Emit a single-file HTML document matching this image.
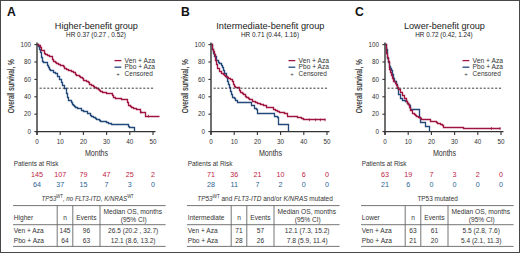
<!DOCTYPE html>
<html><head><meta charset="utf-8"><style>
html,body{margin:0;padding:0;background:#fff;}
body{width:520px;height:253px;overflow:hidden;}
svg{display:block;font-family:"Liberation Sans",sans-serif;}
</style></head><body>
<svg width="520" height="253" viewBox="0 0 520 253">
<rect x="0" y="0" width="520" height="253" fill="#fff"/>
<text x="7.0" y="15.6" font-size="12.2" font-weight="bold" fill="#111">A</text>
<text x="96.4" y="29.2" font-size="9.1" text-anchor="middle" textLength="83.1" lengthAdjust="spacingAndGlyphs" fill="#222">Higher-benefit group</text>
<text x="96.0" y="36.6" font-size="6.3" text-anchor="middle" textLength="59.8" lengthAdjust="spacingAndGlyphs" fill="#222">HR 0.37 (0.27 , 0.52)</text>
<path d="M37.50,44.50 L38.50,44.50 L38.50,46.50 L39.50,46.50 L39.50,49.50 L40.50,49.50 L40.50,52.50 L41.50,52.50 L41.50,57.50 L42.50,57.50 L42.50,61.50 L43.50,61.50 L43.50,62.50 L46.50,62.50 L46.50,62.50 L47.50,62.50 L47.50,65.50 L48.50,65.50 L48.50,67.50 L49.50,67.50 L49.50,69.50 L50.50,69.50 L50.50,70.50 L53.50,70.50 L53.50,72.50 L55.50,72.50 L55.50,73.50 L57.50,73.50 L57.50,76.50 L59.50,76.50 L59.50,79.50 L61.50,79.50 L61.50,82.50 L62.50,82.50 L62.50,85.50 L64.50,85.50 L64.50,88.50 L66.50,88.50 L66.50,90.50 L66.50,90.50 L66.50,93.50 L67.50,93.50 L67.50,97.50 L68.50,97.50 L68.50,100.50 L71.50,100.50 L71.50,102.50 L72.50,102.50 L72.50,104.50 L73.50,104.50 L73.50,105.50 L74.50,105.50 L74.50,106.50 L75.50,106.50 L75.50,107.50 L77.50,107.50 L77.50,108.50 L79.50,108.50 L79.50,108.50 L81.50,108.50 L81.50,110.50 L83.50,110.50 L83.50,111.50 L85.50,111.50 L85.50,111.50 L87.50,111.50 L87.50,113.50 L90.50,113.50 L90.50,115.50 L91.50,115.50 L91.50,116.50 L93.50,116.50 L93.50,117.50 L95.50,117.50 L95.50,118.50 L96.50,118.50 L96.50,119.50 L98.50,119.50 L98.50,119.50 L99.50,119.50 L99.50,120.50 L100.50,120.50 L100.50,121.50 L102.50,121.50 L102.50,121.50 L105.50,121.50 L106.50,121.50 L106.50,122.50 L108.50,122.50 L108.50,123.50 L110.50,123.50 L110.50,123.50 L111.50,123.50 L111.50,124.50 L127.50,124.50 L128.50,124.50 L128.50,126.50 L129.50,126.50 L129.50,127.50 L134.50,127.50 L134.50,131.50" fill="none" stroke="#22497a" stroke-width="1.35" stroke-linejoin="miter"/>
<path d="M37.50,44.50 L38.50,44.50 L38.50,45.50 L40.50,45.50 L40.50,47.50 L41.50,47.50 L41.50,50.50 L44.50,50.50 L44.50,53.50 L45.50,53.50 L45.50,54.50 L47.50,54.50 L47.50,55.50 L49.50,55.50 L49.50,56.50 L52.50,56.50 L52.50,59.50 L53.50,59.50 L53.50,61.50 L55.50,61.50 L55.50,62.50 L56.50,62.50 L56.50,63.50 L58.50,63.50 L58.50,64.50 L60.50,64.50 L60.50,65.50 L61.50,65.50 L61.50,65.50 L63.50,65.50 L63.50,66.50 L64.50,66.50 L64.50,68.50 L66.50,68.50 L66.50,69.50 L68.50,69.50 L68.50,70.50 L69.50,70.50 L69.50,70.50 L71.50,70.50 L71.50,71.50 L73.50,71.50 L73.50,72.50 L75.50,72.50 L75.50,74.50 L76.50,74.50 L76.50,75.50 L78.50,75.50 L78.50,75.50 L79.50,75.50 L79.50,76.50 L80.50,76.50 L80.50,77.50 L82.50,77.50 L82.50,78.50 L83.50,78.50 L83.50,80.50 L85.50,80.50 L85.50,80.50 L86.50,80.50 L86.50,81.50 L88.50,81.50 L88.50,82.50 L89.50,82.50 L89.50,84.50 L91.50,84.50 L91.50,85.50 L93.50,85.50 L93.50,86.50 L94.50,86.50 L94.50,87.50 L96.50,87.50 L96.50,88.50 L98.50,88.50 L98.50,89.50 L99.50,89.50 L99.50,90.50 L100.50,90.50 L100.50,91.50 L102.50,91.50 L102.50,92.50 L104.50,92.50 L104.50,92.50 L106.50,92.50 L106.50,93.50 L107.50,93.50 L107.50,93.50 L109.50,93.50 L109.50,93.50 L112.50,93.50 L112.50,95.50 L113.50,95.50 L113.50,97.50 L115.50,97.50 L115.50,98.50 L116.50,98.50 L116.50,98.50 L118.50,98.50 L118.50,98.50 L119.50,98.50 L119.50,98.50 L121.50,98.50 L121.50,99.50 L122.50,99.50 L122.50,99.50 L124.50,99.50 L124.50,99.50 L125.50,99.50 L125.50,99.50 L127.50,99.50 L127.50,102.50 L128.50,102.50 L128.50,105.50 L130.50,105.50 L130.50,106.50 L131.50,106.50 L131.50,107.50 L133.50,107.50 L133.50,108.50 L135.50,108.50 L135.50,108.50 L136.50,108.50 L136.50,109.50 L138.50,109.50 L138.50,109.50 L140.50,109.50 L140.50,112.50 L141.50,112.50 L141.50,112.50 L142.50,112.50 L142.50,112.50 L144.50,112.50 L144.50,112.50 L145.50,112.50 L145.50,116.50 L159.50,116.50" fill="none" stroke="#a01440" stroke-width="1.35" stroke-linejoin="miter"/>
<path d="M141,110.8 V113.60000000000001" stroke="#a01440" stroke-width="0.8"/>
<path d="M148.4,114.69999999999999 V117.5" stroke="#a01440" stroke-width="0.8"/>
<line x1="39.6" y1="88.20" x2="153.5" y2="88.20" stroke="#3a3a3a" stroke-width="1.0" stroke-dasharray="2.1,1.74"/>
<path d="M37.0,42.40 V134.79999999999998" stroke="#333" stroke-width="1.4" fill="none"/>
<path d="M36.3,131.6 H155.5" stroke="#333" stroke-width="1.3" fill="none"/>
<path d="M34.4,131.60 H37.0" stroke="#333" stroke-width="1.1"/>
<text x="30.9" y="133.79999999999998" font-size="6.3" text-anchor="end" fill="#333">0</text>
<path d="M37.00,131.6 V135.0" stroke="#333" stroke-width="1.1"/>
<text x="37.00" y="143.8" font-size="6.3" text-anchor="middle" fill="#333">0</text>
<path d="M34.4,114.20 H37.0" stroke="#333" stroke-width="1.1"/>
<text x="30.9" y="116.39999999999999" font-size="6.3" text-anchor="end" fill="#333">20</text>
<path d="M60.20,131.6 V135.0" stroke="#333" stroke-width="1.1"/>
<text x="60.20" y="143.8" font-size="6.3" text-anchor="middle" fill="#333">10</text>
<path d="M34.4,96.80 H37.0" stroke="#333" stroke-width="1.1"/>
<text x="30.9" y="99.0" font-size="6.3" text-anchor="end" fill="#333">40</text>
<path d="M83.40,131.6 V135.0" stroke="#333" stroke-width="1.1"/>
<text x="83.40" y="143.8" font-size="6.3" text-anchor="middle" fill="#333">20</text>
<path d="M34.4,79.40 H37.0" stroke="#333" stroke-width="1.1"/>
<text x="30.9" y="81.6" font-size="6.3" text-anchor="end" fill="#333">60</text>
<path d="M106.60,131.6 V135.0" stroke="#333" stroke-width="1.1"/>
<text x="106.60" y="143.8" font-size="6.3" text-anchor="middle" fill="#333">30</text>
<path d="M34.4,62.00 H37.0" stroke="#333" stroke-width="1.1"/>
<text x="30.9" y="64.2" font-size="6.3" text-anchor="end" fill="#333">80</text>
<path d="M129.80,131.6 V135.0" stroke="#333" stroke-width="1.1"/>
<text x="129.80" y="143.8" font-size="6.3" text-anchor="middle" fill="#333">40</text>
<path d="M34.4,44.60 H37.0" stroke="#333" stroke-width="1.1"/>
<text x="30.9" y="46.8" font-size="6.3" text-anchor="end" fill="#333">100</text>
<path d="M153.00,131.6 V135.0" stroke="#333" stroke-width="1.1"/>
<text x="153.00" y="143.8" font-size="6.3" text-anchor="middle" fill="#333">50</text>
<text x="96.5" y="155.7" font-size="9.0" text-anchor="middle" textLength="23.2" lengthAdjust="spacingAndGlyphs" fill="#333">Months</text>
<text x="0" y="0" font-size="8.4" text-anchor="middle" textLength="54" lengthAdjust="spacingAndGlyphs" fill="#333" stroke="#333" stroke-width="0.2" transform="translate(14.100000000000001,86.2) rotate(-90)">Overall survival, %</text>
<path d="M114.5,60.6 H121.3" stroke="#a01440" stroke-width="1.3"/>
<path d="M114.5,67.2 H121.3" stroke="#22497a" stroke-width="1.3"/>
<text x="118.1" y="75.8" font-size="6.0" text-anchor="middle" fill="#333">+</text>
<text x="124.6" y="62.9" font-size="6.6" textLength="30.4" lengthAdjust="spacingAndGlyphs" fill="#333">Ven + Aza</text>
<text x="124.6" y="69.4" font-size="6.6" textLength="30.4" lengthAdjust="spacingAndGlyphs" fill="#333">Pbo + Aza</text>
<text x="124.6" y="76.1" font-size="6.6" textLength="28.2" lengthAdjust="spacingAndGlyphs" fill="#333">Censored</text>
<text x="13.7" y="166.3" font-size="7.2" textLength="44.7" lengthAdjust="spacingAndGlyphs" fill="#333">Patients at Risk</text>
<text x="37.00" y="176.9" font-size="7.2" text-anchor="middle" fill="#c01a42">145</text>
<text x="37.00" y="187.1" font-size="7.2" text-anchor="middle" fill="#2c5f93">64</text>
<text x="60.20" y="176.9" font-size="7.2" text-anchor="middle" fill="#c01a42">107</text>
<text x="60.20" y="187.1" font-size="7.2" text-anchor="middle" fill="#2c5f93">37</text>
<text x="83.40" y="176.9" font-size="7.2" text-anchor="middle" fill="#c01a42">79</text>
<text x="83.40" y="187.1" font-size="7.2" text-anchor="middle" fill="#2c5f93">15</text>
<text x="106.60" y="176.9" font-size="7.2" text-anchor="middle" fill="#c01a42">47</text>
<text x="106.60" y="187.1" font-size="7.2" text-anchor="middle" fill="#2c5f93">7</text>
<text x="129.80" y="176.9" font-size="7.2" text-anchor="middle" fill="#c01a42">25</text>
<text x="129.80" y="187.1" font-size="7.2" text-anchor="middle" fill="#2c5f93">3</text>
<text x="153.00" y="176.9" font-size="7.2" text-anchor="middle" fill="#c01a42">2</text>
<text x="153.00" y="187.1" font-size="7.2" text-anchor="middle" fill="#2c5f93">0</text>
<text x="41.6" y="201" font-size="7" textLength="92.1" lengthAdjust="spacingAndGlyphs" fill="#333"><tspan font-style="italic">TP53</tspan><tspan font-size="4.8" dy="-2.7">WT</tspan><tspan dy="2.7" font-style="italic">, no FLT3-ITD, K/NRAS</tspan><tspan font-size="4.8" dy="-2.7">WT</tspan></text>
<path d="M13.0,205.6 H165.6" stroke="#666" stroke-width="0.9"/>
<path d="M13.0,224.7 H165.6" stroke="#666" stroke-width="0.9"/>
<path d="M13.0,246.4 H165.6" stroke="#666" stroke-width="0.9"/>
<path d="M57.2,205.6 V246.4" stroke="#666" stroke-width="0.9"/>
<path d="M72.8,205.6 V246.4" stroke="#666" stroke-width="0.9"/>
<path d="M100.0,205.6 V246.4" stroke="#666" stroke-width="0.9"/>
<text x="13.8" y="219.8" font-size="6.6" fill="#333">Higher</text>
<text x="65.0" y="219.8" font-size="6.6" text-anchor="middle" fill="#333">n</text>
<text x="86.4" y="219.8" font-size="6.6" text-anchor="middle" fill="#333">Events</text>
<text x="132.80" y="213.7" font-size="6.6" text-anchor="middle" textLength="58.6" lengthAdjust="spacingAndGlyphs" fill="#333">Median OS, months</text>
<text x="133.80" y="221.8" font-size="6.6" text-anchor="middle" fill="#333">(95% CI)</text>
<text x="13.8" y="233.1" font-size="6.6" fill="#333">Ven + Aza</text>
<text x="65.0" y="233.1" font-size="6.6" text-anchor="middle" fill="#333">145</text>
<text x="86.4" y="233.1" font-size="6.6" text-anchor="middle" fill="#333">96</text>
<text x="133.20" y="233.1" font-size="6.6" text-anchor="middle" textLength="50.2" lengthAdjust="spacingAndGlyphs" fill="#333">26.5 (20.2 , 32.7)</text>
<text x="13.8" y="242.6" font-size="6.6" fill="#333">Pbo + Aza</text>
<text x="65.0" y="242.6" font-size="6.6" text-anchor="middle" fill="#333">64</text>
<text x="86.4" y="242.6" font-size="6.6" text-anchor="middle" fill="#333">63</text>
<text x="133.20" y="242.6" font-size="6.6" text-anchor="middle" fill="#333">12.1 (8.6, 13.2)</text>
<text x="181.0" y="15.6" font-size="12.2" font-weight="bold" fill="#111">B</text>
<text x="270.4" y="29.2" font-size="9.1" text-anchor="middle" textLength="108.2" lengthAdjust="spacingAndGlyphs" fill="#222">Intermediate-benefit group</text>
<text x="270.0" y="36.6" font-size="6.3" text-anchor="middle" textLength="58.1" lengthAdjust="spacingAndGlyphs" fill="#222">HR 0.71 (0.44, 1.16)</text>
<path d="M211.50,44.50 L212.50,44.50 L212.50,49.50 L213.50,49.50 L213.50,53.50 L214.50,53.50 L214.50,56.50 L216.50,56.50 L216.50,57.50 L216.50,57.50 L216.50,60.50 L218.50,60.50 L218.50,62.50 L219.50,62.50 L219.50,63.50 L221.50,63.50 L221.50,65.50 L222.50,65.50 L222.50,67.50 L223.50,67.50 L223.50,70.50 L224.50,70.50 L224.50,73.50 L226.50,73.50 L226.50,77.50 L227.50,77.50 L227.50,81.50 L228.50,81.50 L228.50,84.50 L229.50,84.50 L229.50,87.50 L230.50,87.50 L230.50,91.50 L231.50,91.50 L231.50,94.50 L232.50,94.50 L232.50,97.50 L234.50,97.50 L234.50,98.50 L235.50,98.50 L235.50,100.50 L237.50,100.50 L237.50,102.50 L251.50,102.50 L251.50,102.50 L251.50,105.50 L254.50,105.50 L254.50,108.50 L256.50,108.50 L256.50,109.50 L257.50,109.50 L257.50,113.50 L274.50,113.50 L274.50,113.50 L274.50,116.50 L276.50,116.50 L276.50,116.50 L277.50,116.50 L277.50,117.50 L278.50,117.50 L278.50,124.50 L288.50,124.50 L288.50,131.50" fill="none" stroke="#22497a" stroke-width="1.35" stroke-linejoin="miter"/>
<path d="M211.50,44.50 L212.50,44.50 L212.50,49.50 L213.50,49.50 L213.50,51.50 L214.50,51.50 L214.50,54.50 L215.50,54.50 L215.50,57.50 L215.50,57.50 L215.50,60.50 L216.50,60.50 L216.50,64.50 L217.50,64.50 L217.50,68.50 L219.50,68.50 L219.50,71.50 L221.50,71.50 L221.50,73.50 L223.50,73.50 L223.50,74.50 L224.50,74.50 L224.50,75.50 L225.50,75.50 L225.50,76.50 L227.50,76.50 L227.50,77.50 L228.50,77.50 L228.50,78.50 L230.50,78.50 L230.50,79.50 L231.50,79.50 L231.50,79.50 L232.50,79.50 L232.50,81.50 L233.50,81.50 L233.50,84.50 L234.50,84.50 L234.50,86.50 L235.50,86.50 L235.50,87.50 L237.50,87.50 L237.50,87.50 L238.50,87.50 L238.50,87.50 L239.50,87.50 L239.50,90.50 L240.50,90.50 L240.50,92.50 L242.50,92.50 L242.50,93.50 L243.50,93.50 L243.50,94.50 L245.50,94.50 L245.50,96.50 L246.50,96.50 L246.50,97.50 L248.50,97.50 L248.50,98.50 L249.50,98.50 L249.50,99.50 L250.50,99.50 L250.50,99.50 L252.50,99.50 L252.50,101.50 L255.50,101.50 L255.50,102.50 L257.50,102.50 L257.50,103.50 L258.50,103.50 L258.50,103.50 L260.50,103.50 L260.50,104.50 L262.50,104.50 L262.50,104.50 L263.50,104.50 L263.50,105.50 L264.50,105.50 L264.50,105.50 L266.50,105.50 L266.50,107.50 L267.50,107.50 L267.50,107.50 L269.50,107.50 L269.50,107.50 L270.50,107.50 L270.50,107.50 L273.50,107.50 L273.50,109.50 L275.50,109.50 L275.50,110.50 L277.50,110.50 L277.50,111.50 L279.50,111.50 L279.50,112.50 L280.50,112.50 L280.50,112.50 L282.50,112.50 L282.50,112.50 L284.50,112.50 L284.50,113.50 L285.50,113.50 L285.50,113.50 L287.50,113.50 L287.50,116.50 L296.50,116.50 L297.50,116.50 L297.50,117.50 L299.50,117.50 L299.50,117.50 L301.50,117.50 L301.50,118.50 L302.50,118.50 L302.50,118.50 L303.50,118.50 L303.50,119.50 L325.50,119.50" fill="none" stroke="#a01440" stroke-width="1.35" stroke-linejoin="miter"/>
<path d="M309.4,118.5 V121.30000000000001" stroke="#a01440" stroke-width="0.8"/>
<path d="M315.5,118.5 V121.30000000000001" stroke="#a01440" stroke-width="0.8"/>
<path d="M320.4,118.5 V121.30000000000001" stroke="#a01440" stroke-width="0.8"/>
<path d="M325,118.5 V121.30000000000001" stroke="#a01440" stroke-width="0.8"/>
<line x1="213.6" y1="88.20" x2="327.5" y2="88.20" stroke="#3a3a3a" stroke-width="1.0" stroke-dasharray="2.1,1.74"/>
<path d="M211.0,42.40 V134.79999999999998" stroke="#333" stroke-width="1.4" fill="none"/>
<path d="M210.3,131.6 H329.5" stroke="#333" stroke-width="1.3" fill="none"/>
<path d="M208.4,131.60 H211.0" stroke="#333" stroke-width="1.1"/>
<text x="204.9" y="133.79999999999998" font-size="6.3" text-anchor="end" fill="#333">0</text>
<path d="M211.00,131.6 V135.0" stroke="#333" stroke-width="1.1"/>
<text x="211.00" y="143.8" font-size="6.3" text-anchor="middle" fill="#333">0</text>
<path d="M208.4,114.20 H211.0" stroke="#333" stroke-width="1.1"/>
<text x="204.9" y="116.39999999999999" font-size="6.3" text-anchor="end" fill="#333">20</text>
<path d="M234.20,131.6 V135.0" stroke="#333" stroke-width="1.1"/>
<text x="234.20" y="143.8" font-size="6.3" text-anchor="middle" fill="#333">10</text>
<path d="M208.4,96.80 H211.0" stroke="#333" stroke-width="1.1"/>
<text x="204.9" y="99.0" font-size="6.3" text-anchor="end" fill="#333">40</text>
<path d="M257.40,131.6 V135.0" stroke="#333" stroke-width="1.1"/>
<text x="257.40" y="143.8" font-size="6.3" text-anchor="middle" fill="#333">20</text>
<path d="M208.4,79.40 H211.0" stroke="#333" stroke-width="1.1"/>
<text x="204.9" y="81.6" font-size="6.3" text-anchor="end" fill="#333">60</text>
<path d="M280.60,131.6 V135.0" stroke="#333" stroke-width="1.1"/>
<text x="280.60" y="143.8" font-size="6.3" text-anchor="middle" fill="#333">30</text>
<path d="M208.4,62.00 H211.0" stroke="#333" stroke-width="1.1"/>
<text x="204.9" y="64.2" font-size="6.3" text-anchor="end" fill="#333">80</text>
<path d="M303.80,131.6 V135.0" stroke="#333" stroke-width="1.1"/>
<text x="303.80" y="143.8" font-size="6.3" text-anchor="middle" fill="#333">40</text>
<path d="M208.4,44.60 H211.0" stroke="#333" stroke-width="1.1"/>
<text x="204.9" y="46.8" font-size="6.3" text-anchor="end" fill="#333">100</text>
<path d="M327.00,131.6 V135.0" stroke="#333" stroke-width="1.1"/>
<text x="327.00" y="143.8" font-size="6.3" text-anchor="middle" fill="#333">50</text>
<text x="270.5" y="155.7" font-size="9.0" text-anchor="middle" textLength="23.2" lengthAdjust="spacingAndGlyphs" fill="#333">Months</text>
<text x="0" y="0" font-size="8.4" text-anchor="middle" textLength="54" lengthAdjust="spacingAndGlyphs" fill="#333" stroke="#333" stroke-width="0.2" transform="translate(188.1,86.2) rotate(-90)">Overall survival, %</text>
<path d="M288.5,60.6 H295.3" stroke="#a01440" stroke-width="1.3"/>
<path d="M288.5,67.2 H295.3" stroke="#22497a" stroke-width="1.3"/>
<text x="292.1" y="75.8" font-size="6.0" text-anchor="middle" fill="#333">+</text>
<text x="298.6" y="62.9" font-size="6.6" textLength="30.4" lengthAdjust="spacingAndGlyphs" fill="#333">Ven + Aza</text>
<text x="298.6" y="69.4" font-size="6.6" textLength="30.4" lengthAdjust="spacingAndGlyphs" fill="#333">Pbo + Aza</text>
<text x="298.6" y="76.1" font-size="6.6" textLength="28.2" lengthAdjust="spacingAndGlyphs" fill="#333">Censored</text>
<text x="187.7" y="166.3" font-size="7.2" textLength="44.7" lengthAdjust="spacingAndGlyphs" fill="#333">Patients at Risk</text>
<text x="211.00" y="176.9" font-size="7.2" text-anchor="middle" fill="#c01a42">71</text>
<text x="211.00" y="187.1" font-size="7.2" text-anchor="middle" fill="#2c5f93">28</text>
<text x="234.20" y="176.9" font-size="7.2" text-anchor="middle" fill="#c01a42">36</text>
<text x="234.20" y="187.1" font-size="7.2" text-anchor="middle" fill="#2c5f93">11</text>
<text x="257.40" y="176.9" font-size="7.2" text-anchor="middle" fill="#c01a42">21</text>
<text x="257.40" y="187.1" font-size="7.2" text-anchor="middle" fill="#2c5f93">7</text>
<text x="280.60" y="176.9" font-size="7.2" text-anchor="middle" fill="#c01a42">10</text>
<text x="280.60" y="187.1" font-size="7.2" text-anchor="middle" fill="#2c5f93">2</text>
<text x="303.80" y="176.9" font-size="7.2" text-anchor="middle" fill="#c01a42">6</text>
<text x="303.80" y="187.1" font-size="7.2" text-anchor="middle" fill="#2c5f93">0</text>
<text x="327.00" y="176.9" font-size="7.2" text-anchor="middle" fill="#c01a42">0</text>
<text x="327.00" y="187.1" font-size="7.2" text-anchor="middle" fill="#2c5f93">0</text>
<text x="197.2" y="201" font-size="7" textLength="135.6" lengthAdjust="spacingAndGlyphs" fill="#333"><tspan font-style="italic">TP53</tspan><tspan font-size="4.8" dy="-2.7">WT</tspan><tspan dy="2.7"> and </tspan><tspan font-style="italic">FLT3-ITD</tspan><tspan> and/or </tspan><tspan font-style="italic">K/NRAS</tspan><tspan> mutated</tspan></text>
<path d="M187.0,205.6 H339.6" stroke="#666" stroke-width="0.9"/>
<path d="M187.0,224.7 H339.6" stroke="#666" stroke-width="0.9"/>
<path d="M187.0,246.4 H339.6" stroke="#666" stroke-width="0.9"/>
<path d="M231.2,205.6 V246.4" stroke="#666" stroke-width="0.9"/>
<path d="M246.8,205.6 V246.4" stroke="#666" stroke-width="0.9"/>
<path d="M274.0,205.6 V246.4" stroke="#666" stroke-width="0.9"/>
<text x="187.8" y="219.8" font-size="6.6" fill="#333">Intermediate</text>
<text x="239.0" y="219.8" font-size="6.6" text-anchor="middle" fill="#333">n</text>
<text x="260.4" y="219.8" font-size="6.6" text-anchor="middle" fill="#333">Events</text>
<text x="306.80" y="213.7" font-size="6.6" text-anchor="middle" textLength="58.6" lengthAdjust="spacingAndGlyphs" fill="#333">Median OS, months</text>
<text x="307.80" y="221.8" font-size="6.6" text-anchor="middle" fill="#333">(95% CI)</text>
<text x="187.8" y="233.1" font-size="6.6" fill="#333">Ven + Aza</text>
<text x="239.0" y="233.1" font-size="6.6" text-anchor="middle" fill="#333">71</text>
<text x="260.4" y="233.1" font-size="6.6" text-anchor="middle" fill="#333">57</text>
<text x="307.20" y="233.1" font-size="6.6" text-anchor="middle" fill="#333">12.1 (7.3, 15.2)</text>
<text x="187.8" y="242.6" font-size="6.6" fill="#333">Pbo + Aza</text>
<text x="239.0" y="242.6" font-size="6.6" text-anchor="middle" fill="#333">28</text>
<text x="260.4" y="242.6" font-size="6.6" text-anchor="middle" fill="#333">26</text>
<text x="307.20" y="242.6" font-size="6.6" text-anchor="middle" textLength="41.0" lengthAdjust="spacingAndGlyphs" fill="#333">7.8 (5.9, 11.4)</text>
<text x="355.0" y="15.6" font-size="12.2" font-weight="bold" fill="#111">C</text>
<text x="444.4" y="29.2" font-size="9.1" text-anchor="middle" textLength="80.8" lengthAdjust="spacingAndGlyphs" fill="#222">Lower-benefit group</text>
<text x="444.0" y="36.6" font-size="6.3" text-anchor="middle" textLength="57.4" lengthAdjust="spacingAndGlyphs" fill="#222">HR 0.72 (0.42, 1.24)</text>
<path d="M385.50,44.50 L386.50,44.50 L386.50,49.50 L387.50,49.50 L387.50,54.50 L387.50,54.50 L387.50,58.50 L388.50,58.50 L388.50,62.50 L389.50,62.50 L389.50,66.50 L390.50,66.50 L390.50,68.50 L391.50,68.50 L391.50,70.50 L392.50,70.50 L392.50,74.50 L393.50,74.50 L393.50,78.50 L394.50,78.50 L394.50,81.50 L396.50,81.50 L396.50,84.50 L397.50,84.50 L397.50,88.50 L398.50,88.50 L398.50,91.50 L398.50,91.50 L398.50,94.50 L400.50,94.50 L400.50,98.50 L402.50,98.50 L402.50,100.50 L405.50,100.50 L405.50,101.50 L407.50,101.50 L407.50,103.50 L408.50,103.50 L408.50,104.50 L409.50,104.50 L409.50,105.50 L410.50,105.50 L410.50,109.50 L419.50,109.50 L419.50,109.50 L419.50,117.50 L420.50,117.50 L420.50,122.50 L425.50,122.50 L425.50,126.50 L429.50,126.50 L429.50,131.50" fill="none" stroke="#22497a" stroke-width="1.35" stroke-linejoin="miter"/>
<path d="M385.50,44.50 L386.50,44.50 L386.50,49.50 L386.50,49.50 L386.50,53.50 L387.50,53.50 L387.50,57.50 L388.50,57.50 L388.50,61.50 L389.50,61.50 L389.50,64.50 L389.50,64.50 L389.50,67.50 L389.50,67.50 L389.50,69.50 L390.50,69.50 L390.50,72.50 L391.50,72.50 L391.50,75.50 L392.50,75.50 L392.50,78.50 L393.50,78.50 L393.50,81.50 L395.50,81.50 L395.50,83.50 L396.50,83.50 L396.50,85.50 L397.50,85.50 L397.50,87.50 L398.50,87.50 L398.50,89.50 L400.50,89.50 L400.50,92.50 L402.50,92.50 L402.50,95.50 L404.50,95.50 L404.50,98.50 L406.50,98.50 L406.50,101.50 L407.50,101.50 L407.50,103.50 L408.50,103.50 L408.50,104.50 L409.50,104.50 L409.50,107.50 L410.50,107.50 L410.50,110.50 L412.50,110.50 L412.50,113.50 L414.50,113.50 L414.50,114.50 L415.50,114.50 L415.50,115.50 L416.50,115.50 L416.50,116.50 L418.50,116.50 L418.50,117.50 L420.50,117.50 L420.50,118.50 L421.50,118.50 L421.50,119.50 L429.50,119.50 L430.50,119.50 L430.50,121.50 L432.50,121.50 L432.50,121.50 L433.50,121.50 L433.50,121.50 L435.50,121.50 L435.50,121.50 L436.50,121.50 L436.50,122.50 L437.50,122.50 L437.50,123.50 L438.50,123.50 L438.50,123.50 L440.50,123.50 L440.50,124.50 L442.50,124.50 L442.50,125.50 L443.50,125.50 L443.50,127.50 L462.50,127.50 L463.50,127.50 L463.50,128.50 L500.50,128.50" fill="none" stroke="#a01440" stroke-width="1.35" stroke-linejoin="miter"/>
<path d="M491.5,127.1 V129.9" stroke="#a01440" stroke-width="0.8"/>
<path d="M500,127.1 V129.9" stroke="#a01440" stroke-width="0.8"/>
<line x1="387.6" y1="88.20" x2="501.5" y2="88.20" stroke="#3a3a3a" stroke-width="1.0" stroke-dasharray="2.1,1.74"/>
<path d="M385.0,42.40 V134.79999999999998" stroke="#333" stroke-width="1.4" fill="none"/>
<path d="M384.3,131.6 H503.5" stroke="#333" stroke-width="1.3" fill="none"/>
<path d="M382.4,131.60 H385.0" stroke="#333" stroke-width="1.1"/>
<text x="378.9" y="133.79999999999998" font-size="6.3" text-anchor="end" fill="#333">0</text>
<path d="M385.00,131.6 V135.0" stroke="#333" stroke-width="1.1"/>
<text x="385.00" y="143.8" font-size="6.3" text-anchor="middle" fill="#333">0</text>
<path d="M382.4,114.20 H385.0" stroke="#333" stroke-width="1.1"/>
<text x="378.9" y="116.39999999999999" font-size="6.3" text-anchor="end" fill="#333">20</text>
<path d="M408.20,131.6 V135.0" stroke="#333" stroke-width="1.1"/>
<text x="408.20" y="143.8" font-size="6.3" text-anchor="middle" fill="#333">10</text>
<path d="M382.4,96.80 H385.0" stroke="#333" stroke-width="1.1"/>
<text x="378.9" y="99.0" font-size="6.3" text-anchor="end" fill="#333">40</text>
<path d="M431.40,131.6 V135.0" stroke="#333" stroke-width="1.1"/>
<text x="431.40" y="143.8" font-size="6.3" text-anchor="middle" fill="#333">20</text>
<path d="M382.4,79.40 H385.0" stroke="#333" stroke-width="1.1"/>
<text x="378.9" y="81.6" font-size="6.3" text-anchor="end" fill="#333">60</text>
<path d="M454.60,131.6 V135.0" stroke="#333" stroke-width="1.1"/>
<text x="454.60" y="143.8" font-size="6.3" text-anchor="middle" fill="#333">30</text>
<path d="M382.4,62.00 H385.0" stroke="#333" stroke-width="1.1"/>
<text x="378.9" y="64.2" font-size="6.3" text-anchor="end" fill="#333">80</text>
<path d="M477.80,131.6 V135.0" stroke="#333" stroke-width="1.1"/>
<text x="477.80" y="143.8" font-size="6.3" text-anchor="middle" fill="#333">40</text>
<path d="M382.4,44.60 H385.0" stroke="#333" stroke-width="1.1"/>
<text x="378.9" y="46.8" font-size="6.3" text-anchor="end" fill="#333">100</text>
<path d="M501.00,131.6 V135.0" stroke="#333" stroke-width="1.1"/>
<text x="501.00" y="143.8" font-size="6.3" text-anchor="middle" fill="#333">50</text>
<text x="444.5" y="155.7" font-size="9.0" text-anchor="middle" textLength="23.2" lengthAdjust="spacingAndGlyphs" fill="#333">Months</text>
<text x="0" y="0" font-size="8.4" text-anchor="middle" textLength="54" lengthAdjust="spacingAndGlyphs" fill="#333" stroke="#333" stroke-width="0.2" transform="translate(362.1,86.2) rotate(-90)">Overall survival, %</text>
<path d="M462.5,60.6 H469.3" stroke="#a01440" stroke-width="1.3"/>
<path d="M462.5,67.2 H469.3" stroke="#22497a" stroke-width="1.3"/>
<text x="466.1" y="75.8" font-size="6.0" text-anchor="middle" fill="#333">+</text>
<text x="472.6" y="62.9" font-size="6.6" textLength="30.4" lengthAdjust="spacingAndGlyphs" fill="#333">Ven + Aza</text>
<text x="472.6" y="69.4" font-size="6.6" textLength="30.4" lengthAdjust="spacingAndGlyphs" fill="#333">Pbo + Aza</text>
<text x="472.6" y="76.1" font-size="6.6" textLength="28.2" lengthAdjust="spacingAndGlyphs" fill="#333">Censored</text>
<text x="361.7" y="166.3" font-size="7.2" textLength="44.7" lengthAdjust="spacingAndGlyphs" fill="#333">Patients at Risk</text>
<text x="385.00" y="176.9" font-size="7.2" text-anchor="middle" fill="#c01a42">63</text>
<text x="385.00" y="187.1" font-size="7.2" text-anchor="middle" fill="#2c5f93">21</text>
<text x="408.20" y="176.9" font-size="7.2" text-anchor="middle" fill="#c01a42">19</text>
<text x="408.20" y="187.1" font-size="7.2" text-anchor="middle" fill="#2c5f93">6</text>
<text x="431.40" y="176.9" font-size="7.2" text-anchor="middle" fill="#c01a42">7</text>
<text x="431.40" y="187.1" font-size="7.2" text-anchor="middle" fill="#2c5f93">0</text>
<text x="454.60" y="176.9" font-size="7.2" text-anchor="middle" fill="#c01a42">3</text>
<text x="454.60" y="187.1" font-size="7.2" text-anchor="middle" fill="#2c5f93">0</text>
<text x="477.80" y="176.9" font-size="7.2" text-anchor="middle" fill="#c01a42">2</text>
<text x="477.80" y="187.1" font-size="7.2" text-anchor="middle" fill="#2c5f93">0</text>
<text x="501.00" y="176.9" font-size="7.2" text-anchor="middle" fill="#c01a42">0</text>
<text x="501.00" y="187.1" font-size="7.2" text-anchor="middle" fill="#2c5f93">0</text>
<text x="417.4" y="201" font-size="7" textLength="40.4" lengthAdjust="spacingAndGlyphs" fill="#333">TP53 mutated</text>
<path d="M361.0,205.6 H513.6" stroke="#666" stroke-width="0.9"/>
<path d="M361.0,224.7 H513.6" stroke="#666" stroke-width="0.9"/>
<path d="M361.0,246.4 H513.6" stroke="#666" stroke-width="0.9"/>
<path d="M405.2,205.6 V246.4" stroke="#666" stroke-width="0.9"/>
<path d="M420.8,205.6 V246.4" stroke="#666" stroke-width="0.9"/>
<path d="M448.0,205.6 V246.4" stroke="#666" stroke-width="0.9"/>
<text x="361.8" y="219.8" font-size="6.6" fill="#333">Lower</text>
<text x="413.0" y="219.8" font-size="6.6" text-anchor="middle" fill="#333">n</text>
<text x="434.4" y="219.8" font-size="6.6" text-anchor="middle" fill="#333">Events</text>
<text x="480.80" y="213.7" font-size="6.6" text-anchor="middle" textLength="58.6" lengthAdjust="spacingAndGlyphs" fill="#333">Median OS, months</text>
<text x="481.80" y="221.8" font-size="6.6" text-anchor="middle" fill="#333">(95% CI)</text>
<text x="361.8" y="233.1" font-size="6.6" fill="#333">Ven + Aza</text>
<text x="413.0" y="233.1" font-size="6.6" text-anchor="middle" fill="#333">63</text>
<text x="434.4" y="233.1" font-size="6.6" text-anchor="middle" fill="#333">61</text>
<text x="481.20" y="233.1" font-size="6.6" text-anchor="middle" fill="#333">5.5 (2.8, 7.6)</text>
<text x="361.8" y="242.6" font-size="6.6" fill="#333">Pbo + Aza</text>
<text x="413.0" y="242.6" font-size="6.6" text-anchor="middle" fill="#333">21</text>
<text x="434.4" y="242.6" font-size="6.6" text-anchor="middle" fill="#333">20</text>
<text x="481.20" y="242.6" font-size="6.6" text-anchor="middle" textLength="40.6" lengthAdjust="spacingAndGlyphs" fill="#333">5.4 (2.1, 11.3)</text>
<rect x="0.5" y="0.5" width="519" height="252" fill="none" stroke="#484848" stroke-width="1"/>
</svg>
</body></html>
